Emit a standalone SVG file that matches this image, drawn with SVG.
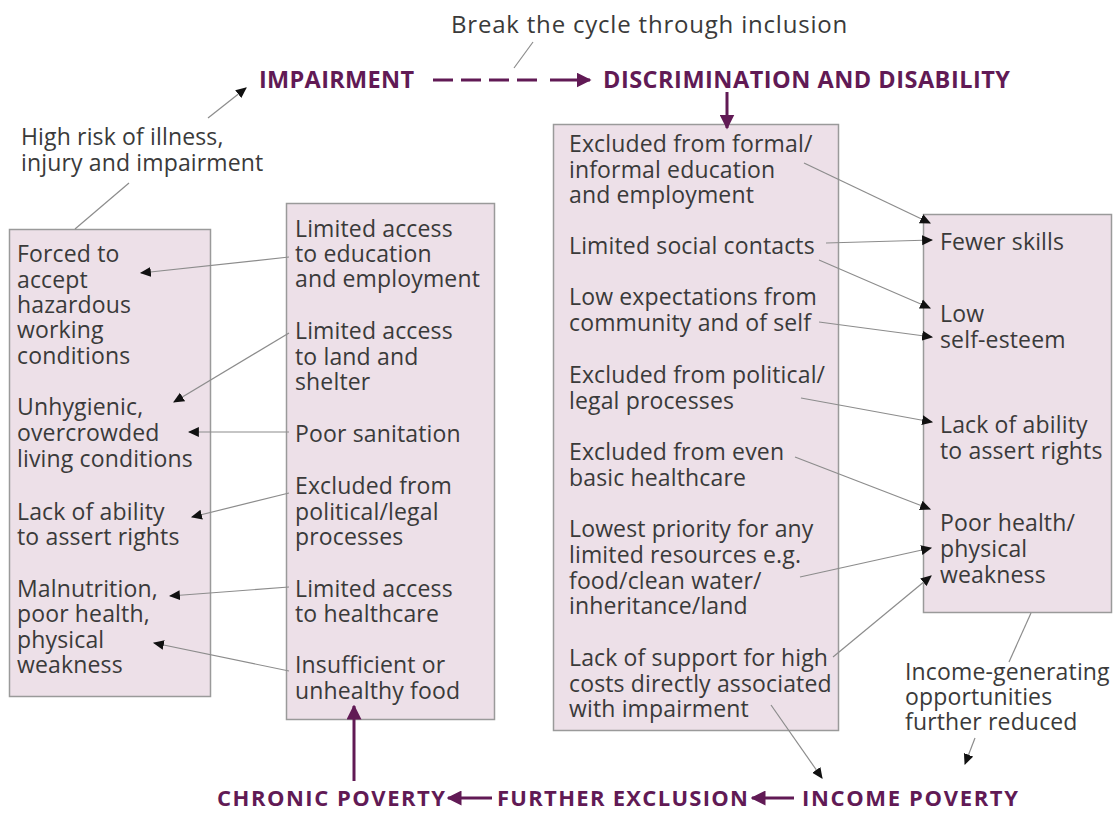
<svg xmlns="http://www.w3.org/2000/svg" width="1115" height="814" viewBox="0 0 1115 814">
<defs>
<style>
.t{font-family:"Open Sans","Noto Sans",sans-serif;font-size:23px;letter-spacing:0.15px;fill:#3a3a3a}
.big{font-size:24px;letter-spacing:0.8px}
.h{font-family:"Open Sans","Noto Sans",sans-serif;font-size:23.5px;font-weight:bold;fill:#611a55}
.hb{font-size:22px}
.box{fill:#ede0e8;stroke:#9a9a9a;stroke-width:1.5}
.c{stroke:#8c8c8c;stroke-width:1.2;fill:none}
.ca{stroke:#8c8c8c;stroke-width:1.2;fill:none;marker-end:url(#ah)}
.p{stroke:#611a55;stroke-width:3;fill:none}
</style>
<marker id="ah" viewBox="0 0 10 10" refX="9" refY="5" markerWidth="11" markerHeight="11" markerUnits="userSpaceOnUse" orient="auto">
<path d="M0,0.5 L10,5 L0,9.5 z" fill="#111"/>
</marker>
<marker id="pa" viewBox="0 0 10 10" refX="9" refY="5" markerWidth="5" markerHeight="5" orient="auto">
<path d="M0,0 L10,5 L0,10 z" fill="#611a55"/>
</marker>
</defs>
<rect width="1115" height="814" fill="#fff"/>

<g id="top-labels">
<text class="t big" x="451" y="33">Break the cycle through inclusion</text>
<text class="h" x="259" y="88" textLength="155" lengthAdjust="spacing">IMPAIRMENT</text>
<text class="h" x="603" y="88" textLength="407" lengthAdjust="spacing">DISCRIMINATION AND DISABILITY</text>
<text class="t"><tspan x="21" y="145">High risk of illness,</tspan><tspan x="21" y="171">injury and impairment</tspan></text>
</g>

<g id="box-left">
<rect class="box" x="9.5" y="229.5" width="201" height="467"/>
<text class="t"><tspan x="17" y="262">Forced to</tspan><tspan x="17" y="288">accept</tspan><tspan x="17" y="313">hazardous</tspan><tspan x="17" y="338">working</tspan><tspan x="17" y="364">conditions</tspan></text>
<text class="t"><tspan x="17" y="415">Unhygienic,</tspan><tspan x="17" y="441">overcrowded</tspan><tspan x="17" y="467">living conditions</tspan></text>
<text class="t"><tspan x="17" y="520">Lack of ability</tspan><tspan x="17" y="545">to assert rights</tspan></text>
<text class="t"><tspan x="17" y="597">Malnutrition,</tspan><tspan x="17" y="622">poor health,</tspan><tspan x="17" y="648">physical</tspan><tspan x="17" y="673">weakness</tspan></text>
</g>

<g id="box-middle">
<rect class="box" x="286.5" y="203.5" width="208" height="516"/>
<text class="t"><tspan x="295" y="237">Limited access</tspan><tspan x="295" y="262">to education</tspan><tspan x="295" y="287">and employment</tspan></text>
<text class="t"><tspan x="295" y="339">Limited access</tspan><tspan x="295" y="365">to land and</tspan><tspan x="295" y="390">shelter</tspan></text>
<text class="t" x="295" y="442">Poor sanitation</text>
<text class="t"><tspan x="295" y="494">Excluded from</tspan><tspan x="295" y="520">political/legal</tspan><tspan x="295" y="545">processes</tspan></text>
<text class="t"><tspan x="295" y="597">Limited access</tspan><tspan x="295" y="622">to healthcare</tspan></text>
<text class="t"><tspan x="295" y="673">Insufficient or</tspan><tspan x="295" y="699">unhealthy food</tspan></text>
</g>

<g id="box-center">
<rect class="box" x="553.5" y="124.5" width="285" height="606"/>
<text class="t"><tspan x="569" y="152">Excluded from formal/</tspan><tspan x="569" y="178">informal education</tspan><tspan x="569" y="203">and employment</tspan></text>
<text class="t" x="569" y="254">Limited social contacts</text>
<text class="t"><tspan x="569" y="305">Low expectations from</tspan><tspan x="569" y="331">community and of self</tspan></text>
<text class="t"><tspan x="569" y="383">Excluded from political/</tspan><tspan x="569" y="409">legal processes</tspan></text>
<text class="t"><tspan x="569" y="460">Excluded from even</tspan><tspan x="569" y="486">basic healthcare</tspan></text>
<text class="t"><tspan x="569" y="537">Lowest priority for any</tspan><tspan x="569" y="563">limited resources e.g.</tspan><tspan x="569" y="589">food/clean water/</tspan><tspan x="569" y="614">inheritance/land</tspan></text>
<text class="t"><tspan x="569" y="666">Lack of support for high</tspan><tspan x="569" y="692">costs directly associated</tspan><tspan x="569" y="717">with impairment</tspan></text>
</g>

<g id="box-right">
<rect class="box" x="923.5" y="214.5" width="188" height="398"/>
<text class="t" x="940" y="250">Fewer skills</text>
<text class="t"><tspan x="940" y="322">Low</tspan><tspan x="940" y="348">self-esteem</tspan></text>
<text class="t"><tspan x="940" y="433">Lack of ability</tspan><tspan x="940" y="459">to assert rights</tspan></text>
<text class="t"><tspan x="940" y="531">Poor health/</tspan><tspan x="940" y="557">physical</tspan><tspan x="940" y="583">weakness</tspan></text>
</g>

<g id="income-note">
<text class="t"><tspan x="905" y="680">Income-generating</tspan><tspan x="905" y="705">opportunities</tspan><tspan x="905" y="730">further reduced</tspan></text>
</g>

<g id="bottom-labels">
<text class="h hb" x="217" y="806" textLength="228" lengthAdjust="spacing">CHRONIC POVERTY</text>
<text class="h hb" x="497" y="806" textLength="251" lengthAdjust="spacing">FURTHER EXCLUSION</text>
<text class="h hb" x="802" y="806" textLength="216" lengthAdjust="spacing">INCOME POVERTY</text>
</g>

<g id="connectors">
<line class="c" x1="514" y1="68" x2="533" y2="42"/>
<path class="p" d="M433,80 H545" stroke-dasharray="20 8"/>
<path class="p" d="M550,80 H590" marker-end="url(#pa)"/>
<path class="p" d="M727,92 V128" marker-end="url(#pa)"/>
<line class="ca" x1="208" y1="118" x2="246" y2="88"/>
<line class="c" x1="129" y1="183" x2="75" y2="229"/>
<line class="ca" x1="289" y1="257" x2="141" y2="273"/>
<line class="ca" x1="289" y1="333" x2="174" y2="402"/>
<line class="ca" x1="289" y1="432" x2="189" y2="432"/>
<line class="ca" x1="289" y1="493" x2="192" y2="517"/>
<line class="ca" x1="289" y1="587" x2="170" y2="596"/>
<line class="ca" x1="289" y1="671" x2="154" y2="643"/>
<line class="ca" x1="804" y1="163" x2="930" y2="223"/>
<line class="ca" x1="826" y1="243" x2="932" y2="240"/>
<line class="ca" x1="819" y1="260" x2="930" y2="308"/>
<line class="ca" x1="819" y1="322" x2="932" y2="337"/>
<line class="ca" x1="801" y1="398" x2="932" y2="422"/>
<line class="ca" x1="795" y1="457" x2="930" y2="509"/>
<line class="ca" x1="800" y1="577" x2="931" y2="548"/>
<line class="ca" x1="833" y1="657" x2="931" y2="576"/>
<line class="ca" x1="771" y1="705" x2="822" y2="778"/>
<line class="c" x1="1031" y1="613" x2="1009" y2="662"/>
<line class="ca" x1="975" y1="738" x2="965" y2="764"/>
<path class="p" d="M354,781 V706" marker-end="url(#pa)"/>
<path class="p" d="M492,798 H448" marker-end="url(#pa)"/>
<path class="p" d="M794,798 H752" marker-end="url(#pa)"/>
</g>
</svg>
